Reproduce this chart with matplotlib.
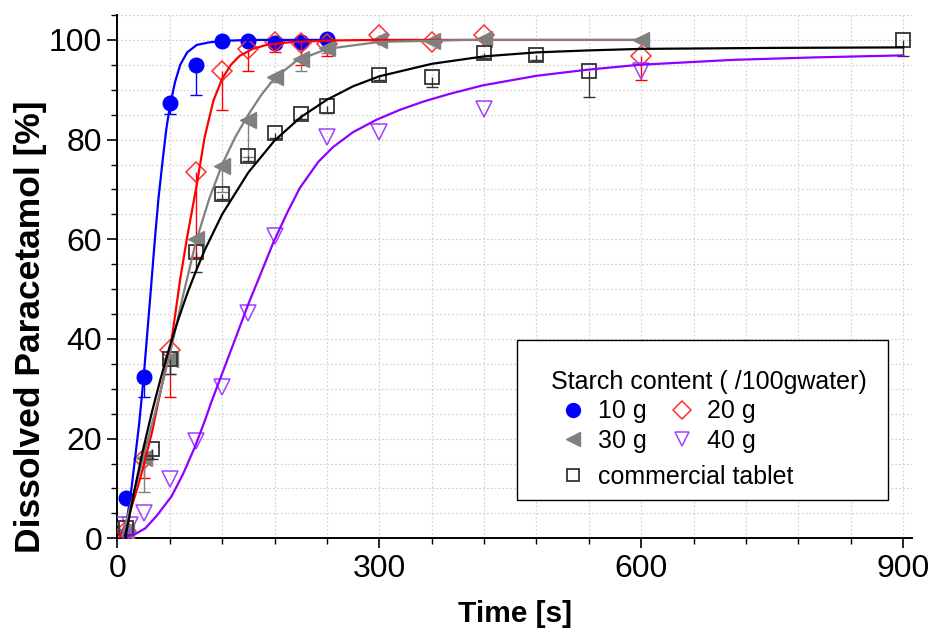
import matplotlib
matplotlib.use("Agg")
import numpy as np
import matplotlib.pyplot as plt
from matplotlib.lines import Line2D
from matplotlib.patches import Rectangle
from matplotlib.ticker import MultipleLocator

plt.rcParams['font.family'] = ['Liberation Sans', 'DejaVu Sans']

# measured points (time in s, dissolved %), lower error only
t_10 = [10, 30, 60, 90, 120, 150, 180, 210, 240]
v_10 = [8.1, 32.3, 87.3, 95.0, 99.7, 99.8, 99.4, 99.5, 100.2]
e_10 = [0, 4.0, 2.2, 6.1, 0, 0, 0, 0, 0]

t_20 = [10, 30, 60, 90, 120, 150, 180, 210, 240, 300, 360, 420, 600]
v_20 = [1.5, 16.0, 37.8, 73.4, 93.8, 98.2, 99.6, 99.4, 99.2, 101.0, 99.5, 100.9, 96.7]
e_20 = [0, 4.0, 9.4, 17.0, 7.9, 4.5, 2.0, 4.5, 2.5, 1.0, 0, 0, 4.8]

t_30 = [10, 30, 60, 90, 120, 150, 180, 210, 240, 300, 360, 420, 600]
v_30 = [1.5, 16.2, 36.0, 60.0, 74.8, 83.9, 92.5, 96.2, 98.3, 100.0, 99.8, 100.2, 100.0]
e_30 = [0, 7.0, 3.0, 0, 5.3, 7.3, 1.0, 2.5, 1.0, 0, 0, 0, 0]

t_40 = [5, 15, 30, 60, 90, 120, 150, 180, 240, 300, 420, 600]
v_40 = [2.7, 2.7, 5.0, 11.8, 19.5, 30.3, 45.3, 60.7, 80.5, 81.5, 86.2, 93.8]
e_40 = [0, 0, 0, 0, 0, 0, 0, 0, 0, 0, 0, 0]

t_com = [10, 40, 60, 90, 120, 150, 180, 210, 240, 300, 360, 420, 480, 540, 900]
v_com = [2.0, 17.9, 35.9, 57.4, 69.1, 76.8, 81.3, 85.2, 86.8, 93.0, 92.6, 97.3, 96.9, 93.8, 100.0]
e_com = [0, 2.0, 3.0, 4.0, 1.0, 1.0, 1.0, 1.0, 1.5, 1.0, 2.0, 1.0, 1.0, 5.2, 3.3]

# fitted curves
fit_t_10 = [8, 16, 25, 30, 37.5, 43, 47, 52, 56, 60, 66, 72, 80, 91, 105, 120, 150, 240]
fit_v_10 = [0, 9.7, 23, 32, 48, 60, 68, 76, 82, 86.5, 91.5, 95, 97.5, 99, 99.5, 99.8, 100, 100]

fit_t_20 = [2, 12, 22, 30, 40, 47, 54, 61, 68, 72, 80, 91, 100, 110, 120, 130, 140, 155, 171, 200, 250, 300, 600]
fit_v_20 = [0, 4, 9.5, 14.5, 21.5, 27.5, 33, 38.5, 47, 52, 60.5, 71, 80.5, 87.8, 92.2, 95, 96.8, 98.2, 99, 99.6, 99.9, 100, 100]

fit_t_30 = [5, 15, 30, 45, 60, 75, 90, 105, 120, 135, 150, 165, 180, 205, 240, 300, 400, 600]
fit_v_30 = [0, 6.5, 16.4, 26.5, 36.9, 48.5, 59.5, 68, 75, 80.5, 85, 89, 92.3, 95.8, 98.2, 99.6, 100, 100]

fit_t_40 = [5, 20, 32, 45, 62, 75, 89, 100, 108, 121, 135, 150, 164, 179, 195, 209, 230, 247,
            270, 297, 324, 350, 381, 419, 480, 537, 597, 705, 800, 900]
fit_v_40 = [0, 0.8, 2, 4.5, 8.4, 12.8, 18.4, 23.5, 27.5, 33.5, 40, 47, 53, 59.5, 65.5, 70.3, 75.5, 78.5,
            81.5, 84, 86, 87.6, 89.2, 90.9, 92.8, 94.0, 95.0, 96.0, 96.5, 96.9]

fit_t_com = [9, 20, 30, 40, 50, 60, 70, 80, 90, 100, 120, 150, 180, 210, 240, 270, 300, 360, 420, 480, 540, 600, 750, 900]
fit_v_com = [0, 10.0, 18.2, 25.6, 32.3, 38.5, 44.0, 49.1, 53.6, 57.8, 65.0, 73.4, 79.8, 84.5, 88.0, 90.7, 92.7,
             95.2, 96.7, 97.5, 97.9, 98.2, 98.4, 98.5]

labels = ['10 g', '20 g', '30 g', '40 g', 'commercial tablet']
c_blue = '#0000ff'
c_red = '#ff0000'
c_gray = '#808080'
c_purple = '#8f00ff'
c_black = '#000000'

fig = plt.figure(figsize=(9.29, 6.33), dpi=100)
ax = fig.add_axes([0.1263, 0.1496, 0.8554, 0.8267])

series = [
    (t_10, v_10, e_10, 'o', dict(color=c_blue, mfc=c_blue, mec=c_blue, ms=10.5, mew=1.0)),
    (t_20, v_20, e_20, 'D', dict(color=c_red, mfc='none', mec='#ff3030', ms=10, mew=1.1)),
    (t_30, v_30, e_30, '<', dict(color=c_gray, mfc=c_gray, mec=c_gray, ms=11, mew=1.0)),
    (t_40, v_40, e_40, 'v', dict(color=c_purple, mfc='none', mec='#a040ff', ms=12, mew=1.1)),
    (t_com, v_com, e_com, 's', dict(color='#333333', mfc='none', mec='#333333', ms=10, mew=1.3)),
]
for t, v, e, m, kw in series:
    t = np.array(t)
    v = np.array(v)
    e = np.array(e)
    has = e > 0
    # one-sided (downward) error bars with a cap
    ax.vlines(t[has], v[has] - e[has], v[has], color=kw['color'], lw=1.0, zorder=3)
    ax.plot(t[has], v[has] - e[has], linestyle='none', marker='_', ms=8, mew=1.0,
            color=kw['color'], zorder=3)
    ax.plot(t, v, linestyle='none', marker=m, markerfacecolor=kw['mfc'],
            markeredgecolor=kw['mec'], markersize=kw['ms'], markeredgewidth=kw['mew'], zorder=3)

ax.plot(fit_t_10, fit_v_10, color=c_blue, lw=1.6, zorder=4)
ax.plot(fit_t_20, fit_v_20, color=c_red, lw=1.6, zorder=4)
ax.plot(fit_t_30, fit_v_30, color=c_gray, lw=1.6, zorder=4)
ax.plot(fit_t_40, fit_v_40, color=c_purple, lw=1.6, zorder=4)
ax.plot(fit_t_com, fit_v_com, color=c_black, lw=1.6, zorder=4)

ax.set_xlim(0, 910)
ax.set_ylim(0, 105)
ax.xaxis.set_major_locator(MultipleLocator(300))
ax.xaxis.set_minor_locator(MultipleLocator(60))
ax.yaxis.set_major_locator(MultipleLocator(20))
ax.yaxis.set_minor_locator(MultipleLocator(5))
ax.tick_params(which='major', direction='out', length=7, width=1.2, labelsize=23, pad=4)
ax.tick_params(which='minor', direction='out', length=4, width=1.0)
ax.grid(which='both', color='#cfcfcf', linestyle=(0, (1.5, 2)), linewidth=0.8)
ax.set_axisbelow(True)
for s in ['top', 'right']:
    ax.spines[s].set_visible(False)
for s in ['left', 'bottom']:
    ax.spines[s].set_linewidth(1.4)

ax.set_xlabel('Time [s]', fontsize=21.5, fontweight='bold', labelpad=12)
ax.set_ylabel('Dissolved Paracetamol [%]', fontsize=25.5, fontweight='bold')
ax.yaxis.set_label_coords(-0.088, 0.405)

# legend box
ax.add_patch(Rectangle((0.503, 0.073), 0.467, 0.306, transform=ax.transAxes,
                       facecolor='white', edgecolor='black', lw=1.0, zorder=5))

def proxy(m, kw, ms):
    return Line2D([], [], linestyle='none', marker=m, markerfacecolor=kw['mfc'],
                  markeredgecolor=kw['mec'], markersize=ms, markeredgewidth=kw['mew'])

blank = Line2D([], [], linestyle='none')
h = [proxy('o', series[0][4], 10), proxy('<', series[2][4], 10), blank,
     proxy('D', series[1][4], 9), proxy('v', series[3][4], 10), blank]
leg1 = ax.legend(h, [labels[0], labels[2], ' ', labels[1], labels[3], ' '], ncol=2,
                 title='Starch content ( /100gwater)', loc='upper left',
                 bbox_to_anchor=(0.5457, 0.322), frameon=False, fontsize=18,
                 title_fontsize=18, alignment='left', borderpad=0, borderaxespad=0,
                 handlelength=1.8, handletextpad=0.1, columnspacing=0.5, labelspacing=0.22)
leg1.set_zorder(6)
ax.add_artist(leg1)
leg2 = ax.legend([proxy('s', series[4][4], 8)], [labels[4]], loc='upper left',
                 bbox_to_anchor=(0.5457, 0.140), frameon=False, fontsize=18,
                 borderpad=0, borderaxespad=0, handlelength=1.8, handletextpad=0.1)
leg2.set_zorder(6)

fig.savefig('out.png', dpi=100)
